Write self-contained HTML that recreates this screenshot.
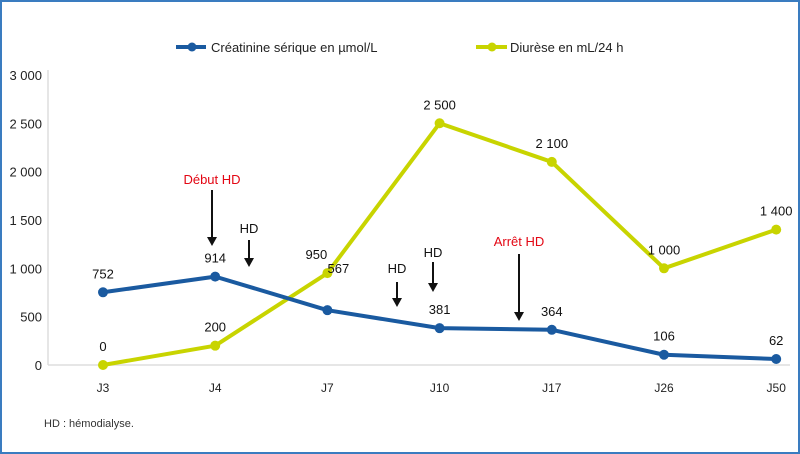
<!DOCTYPE html>
<html><head><meta charset="utf-8"><style>
body{margin:0;background:#fff}
svg{display:block;font-family:"Liberation Sans",sans-serif}
</style></head><body>
<svg id="chart" width="800" height="454">
<rect x="1" y="1" width="798" height="452" fill="#fff" stroke="#3a7cc0" stroke-width="2"/>
<line x1="48" y1="70" x2="48" y2="365" stroke="#ddd" stroke-width="1.5"/>
<line x1="48" y1="365" x2="790" y2="365" stroke="#ddd" stroke-width="1.5"/>
<g id="yt"></g><g id="xt"></g><g id="series"></g><g id="ann"></g>
<g>
<g>
<line x1="176" y1="47" x2="206" y2="47" stroke="#1a5aa0" stroke-width="4"/><circle cx="192" cy="47" r="4.5" fill="#1a5aa0"/>
<text x="211" y="52" font-size="13" fill="#222">Créatinine sérique en µmol/L</text></g>
<g>
<line x1="476" y1="47" x2="507" y2="47" stroke="#c8d400" stroke-width="4"/><circle cx="492" cy="47" r="4.5" fill="#c8d400"/>
<text x="510" y="52" font-size="13" fill="#222">Diurèse en mL/24 h</text></g>
</g>
<text x="44" y="427" font-size="11" fill="#333">HD : hémodialyse.</text>
</svg>
<script>
const categories=["J3","J4","J7","J10","J17","J26","J50"];
const creatinine=[752,914,567,381,364,106,62];
const diurese=[0,200,950,2500,2100,1000,1400];
const creatLabels=["752","914","567","381","364","106","62"];
const diurLabels=["0","200","950","2 500","2 100","1 000","1 400"];
const yTicks=[0,500,1000,1500,2000,2500,3000];
const yTickLabels=["0","500","1 000","1 500","2 000","2 500","3 000"];
const NS="http://www.w3.org/2000/svg";
const x=i=>103+i*112.2;
const y=v=>365-v*0.0967;
function mk(tag,attrs,parent,txt){const e=document.createElementNS(NS,tag);for(const k in attrs)e.setAttribute(k,attrs[k]);if(txt!==undefined)e.textContent=txt;parent.appendChild(e);return e;}
const yt=document.getElementById('yt');
yTicks.forEach((v,i)=>{const t=mk('text',{x:42,y:y(v)+5,'font-size':13,'text-anchor':'end',fill:'#222'},yt,yTickLabels[i]);

});
const xt=document.getElementById('xt');
categories.forEach((c,i)=>{const t=mk('text',{x:x(i),y:392,'font-size':12,'text-anchor':'middle',fill:'#222'},xt,c);

});
const sg=document.getElementById('series');
function labelOffset(name,i){
if(name==='creatinine'&&i===2)return [11,-37];
if(name==='diurese'&&i===2)return [-11,-14];
return [0,-14];
}
function draw(vals,labels,color,name){
const p=mk('polyline',{points:vals.map((v,i)=>x(i)+','+y(v)).join(' '),fill:'none',stroke:color,'stroke-width':4,'stroke-linejoin':'round'},sg);


vals.forEach((v,i)=>{const c=mk('circle',{cx:x(i),cy:y(v),r:5,fill:color},sg);


const o=labelOffset(name,i);
const t=mk('text',{x:x(i)+o[0],y:y(v)+o[1],'font-size':13,'text-anchor':'middle',fill:'#111'},sg,labels[i]);

});
}
draw(diurese,diurLabels,'#c8d400','diurese');
draw(creatinine,creatLabels,'#1a5aa0','creatinine');
const ag=document.getElementById('ann');
const anns=[["Début HD",212,184,190,246,'#e30613'],["HD",249,233,240,267,'#111'],["HD",397,273,282,307,'#111'],["HD",433,257,262,292,'#111'],["Arrêt HD",519,246,254,321,'#e30613']];
anns.forEach(a=>{const t=mk('text',{x:a[1],y:a[2],'font-size':13,'text-anchor':'middle',fill:a[5]},ag,a[0]);


const l=mk('line',{x1:a[1],y1:a[3],x2:a[1],y2:a[4]-6,stroke:'#111','stroke-width':2},ag);


const h=mk('polygon',{points:(a[1]-5)+','+(a[4]-9)+' '+(a[1]+5)+','+(a[4]-9)+' '+a[1]+','+a[4],fill:'#111'},ag);

});
</script>
</body></html>
